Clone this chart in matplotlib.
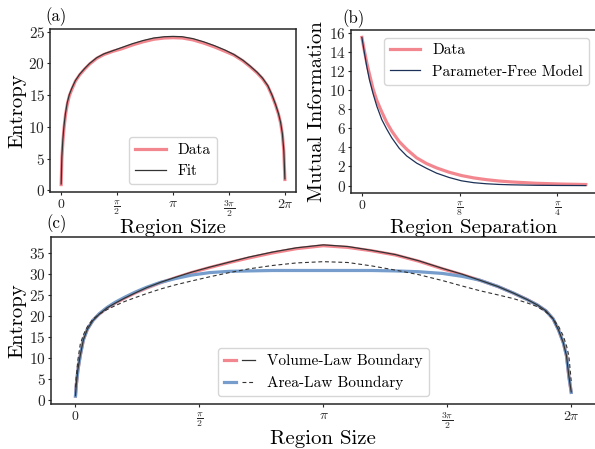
import matplotlib
matplotlib.use('Agg')
import matplotlib.pyplot as plt
import numpy as np
from matplotlib.legend_handler import HandlerTuple

#=====================================================
# (a) entropy of the volume-law state, data and fit

size_a = [0.0, 0.02, 0.05, 0.08, 0.12, 0.17, 0.23, 0.3, 0.4, 0.52, 0.66, 0.8,
          1.0, 1.2, 1.45, 1.7, 2.0, 2.3, 2.6, 2.9, 3.14, 3.4, 3.7, 4.0, 4.3,
          4.6, 4.85, 5.1, 5.3, 5.5, 5.65, 5.8, 5.92, 6.02, 6.1, 6.16, 6.21,
          6.25, 6.28]
entropy_a_data = [0.9, 5.0, 7.8, 9.8, 11.8, 13.5, 14.9, 15.9, 17.2, 18.2, 19.1,
                  19.9, 20.8, 21.4, 21.9, 22.3, 22.9, 23.4, 23.8, 24.0, 24.05,
                  24.0, 23.7, 23.2, 22.6, 21.9, 21.3, 20.4, 19.5, 18.5, 17.6,
                  16.4, 14.9, 13.4, 12.0, 10.6, 8.8, 6.2, 1.7]
entropy_a_fit = [1.0, 5.4, 8.2, 10.2, 12.1, 13.8, 15.1, 16.1, 17.3, 18.3, 19.2,
                 20.0, 20.9, 21.5, 22.0, 22.5, 23.1, 23.6, 24.0, 24.2, 24.25,
                 24.2, 23.9, 23.4, 22.8, 22.1, 21.4, 20.5, 19.6, 18.6, 17.7,
                 16.5, 15.0, 13.5, 12.1, 10.7, 8.9, 6.3, 1.8]

# (b) mutual information vs separation

separation = [0.0, 0.01, 0.02, 0.03, 0.045, 0.06, 0.08, 0.1, 0.12, 0.15, 0.18,
              0.22, 0.26, 0.3, 0.35, 0.4, 0.45, 0.5, 0.55, 0.6, 0.7, 0.8, 0.9]
mi_data = [15.5, 14.1, 12.8, 11.7, 10.1, 8.9, 7.7, 6.6, 5.7, 4.6, 3.8, 2.9,
           2.3, 1.85, 1.4, 1.05, 0.8, 0.62, 0.48, 0.38, 0.24, 0.16, 0.11]
mi_model = [15.5, 13.9, 12.4, 11.1, 9.6, 8.3, 6.9, 5.9, 5.0, 3.9, 3.1, 2.35,
            1.8, 1.3, 0.85, 0.5, 0.3, 0.19, 0.12, 0.08, 0.03, 0.01, 0.0]

# (c) volume-law vs area-law boundary

size_c = [0.0, 0.01, 0.03, 0.06, 0.1, 0.15, 0.22, 0.3, 0.4, 0.5, 0.62, 0.75,
          0.9, 1.08, 1.27, 1.47, 1.7, 1.95, 2.2, 2.5, 2.8, 3.14, 3.45, 3.75,
          4.05, 4.35, 4.65, 4.9, 5.12, 5.35, 5.55, 5.72, 5.85, 5.96, 6.05,
          6.12, 6.18, 6.22, 6.25, 6.28]
volume_data = [0.9, 3.5, 7.0, 10.5, 14.3, 16.8, 18.9, 20.4, 21.9, 23.0, 24.2,
               25.4, 26.6, 27.9, 29.1, 30.3, 31.5, 32.7, 33.8, 35.0, 36.0,
               36.7, 36.3, 35.5, 34.5, 33.0, 31.2, 29.8, 28.5, 27.0, 25.4,
               23.9, 22.6, 21.2, 19.3, 16.6, 13.6, 10.5, 5.6, 1.8]
volume_fit = [1.0, 3.7, 7.2, 10.6, 14.3, 16.8, 18.9, 20.4, 21.9, 23.0, 24.2,
              25.4, 26.7, 28.0, 29.2, 30.4, 31.6, 32.8, 34.0, 35.2, 36.2,
              36.9, 36.5, 35.6, 34.6, 33.1, 31.3, 29.9, 28.5, 27.0, 25.4,
              23.9, 22.6, 21.2, 19.3, 16.6, 13.6, 10.5, 5.7, 1.9]
area_data = [0.9, 3.5, 7.0, 10.5, 14.3, 16.8, 18.9, 20.5, 22.0, 23.2, 24.4,
             25.6, 26.8, 28.0, 28.9, 29.7, 30.3, 30.6, 30.7, 30.8, 30.8,
             30.8, 30.8, 30.8, 30.7, 30.5, 30.1, 29.4, 28.5, 27.0, 25.4,
             23.9, 22.6, 21.2, 19.3, 16.6, 13.6, 10.5, 5.6, 1.8]
area_fit = [3.0, 5.5, 9.5, 13.2, 15.5, 17.4, 19.2, 20.4, 21.5, 22.4, 23.4,
            24.3, 25.3, 26.4, 27.4, 28.3, 29.3, 30.3, 31.2, 32.0, 32.6, 32.9,
            32.7, 31.9, 30.9, 29.8, 28.4, 27.1, 26.0, 25.0, 24.1, 23.1, 22.2,
            20.9, 19.3, 17.5, 15.2, 12.9, 10.5, 4.5]

pi_ticks = [0, np.pi/2, np.pi, 3*np.pi/2, 2*np.pi]
pi_labels = [r'$0$', r'$\frac{\pi}{2}$', r'$\pi$', r'$\frac{3\pi}{2}$', r'$2\pi$']
sep_ticks = [0, np.pi/8, np.pi/4]
sep_labels = [r'$0$', r'$\frac{\pi}{8}$', r'$\frac{\pi}{4}$']

PINK = '#f3878f'
BLUE = '#769dcb'
NAVY = '#1c3157'
DARK = '#333333'

#=====================================================

def main():

    setStyle()
    fig = plt.figure(figsize=(5.95, 4.49), dpi=100)

    ax_a = fig.add_axes([0.084, 0.5724, 0.4136, 0.363])
    ax_b = fig.add_axes([0.5894, 0.5702, 0.414, 0.363])
    ax_c = fig.add_axes([0.0852, 0.1009, 0.9165, 0.3706])

    plotA(ax_a)
    plotB(ax_b)
    plotC(ax_c)

    fig.text(0.076, 0.962, '(a)', fontsize=12, va='center')
    fig.text(0.575, 0.958, '(b)', fontsize=12, va='center')
    fig.text(0.078, 0.502, '(c)', fontsize=12, va='center')

    fig.savefig('out.png', dpi=100)

    return

#-----------------------------------------------------

def setStyle():
    plt.rcParams['font.family'] = 'serif'
    plt.rcParams['font.serif'] = ['cmr10']
    plt.rcParams['mathtext.fontset'] = 'cm'
    plt.rcParams['axes.unicode_minus'] = False
    plt.rcParams['axes.formatter.use_mathtext'] = True
    plt.rcParams['axes.edgecolor'] = '0.15'
    plt.rcParams['axes.linewidth'] = 1.1
    plt.rcParams['xtick.color'] = '0.15'
    plt.rcParams['ytick.color'] = '0.15'
    plt.rcParams['xtick.major.size'] = 2.5
    plt.rcParams['ytick.major.size'] = 2.0
    plt.rcParams['xtick.major.pad'] = 2.0
    plt.rcParams['ytick.major.pad'] = 1.5
    plt.rcParams['xtick.labelsize'] = 10
    plt.rcParams['ytick.labelsize'] = 11
    plt.rcParams['axes.labelsize'] = 15
    plt.rcParams['legend.fontsize'] = 11

#-----------------------------------------------------

def plotA(ax):
    ax.plot(size_a, entropy_a_data, color=PINK, lw=2.3, label='Data')
    ax.plot(size_a, entropy_a_fit, color=DARK, lw=0.9, label='Fit')

    ax.set_xticks(pi_ticks)
    ax.set_xticklabels(pi_labels)
    ax.set_yticks([0, 5, 10, 15, 20, 25])
    ax.set_xlabel('Region Size')
    ax.set_ylabel('Entropy')
    ax.xaxis.set_label_coords(0.5, -0.165)
    ax.yaxis.set_label_coords(-0.095, 0.5)
    ax.legend(loc='lower center')

#-----------------------------------------------------

def plotB(ax):
    ax.plot(separation, mi_data, color=PINK, lw=2.3, label='Data')
    ax.plot(separation, mi_model, color=NAVY, lw=0.9, label='Parameter-Free Model')

    ax.set_xticks(sep_ticks)
    ax.set_xticklabels(sep_labels)
    ax.set_yticks(range(0, 17, 2))
    ax.set_xlabel('Region Separation')
    ax.set_ylabel('Mutual Information')
    ax.xaxis.set_label_coords(0.5, -0.16)
    ax.yaxis.set_label_coords(-0.10, 0.5)
    ax.legend(loc='upper right')

#-----------------------------------------------------

def plotC(ax):
    l1, = ax.plot(size_c, volume_data, color=PINK, lw=2.3)
    l3, = ax.plot(size_c, area_data, color=BLUE, lw=2.3)
    l2, = ax.plot(size_c, volume_fit, color=DARK, lw=0.9)
    l4, = ax.plot(size_c, area_fit, color=DARK, lw=0.8, ls=(0, (3.5, 2.5)))

    ax.set_xticks(pi_ticks)
    ax.set_xticklabels(pi_labels)
    ax.set_yticks(range(0, 36, 5))
    ax.set_xlabel('Region Size')
    ax.set_ylabel('Entropy')
    ax.xaxis.set_label_coords(0.5, -0.16)
    ax.yaxis.set_label_coords(-0.0453, 0.5)
    ax.legend([(l1, l2), (l3, l4)], ['Volume-Law Boundary', 'Area-Law Boundary'],
              handler_map={tuple: HandlerTuple(ndivide=None)}, loc='lower center')

#=====================================================

if __name__ == '__main__':
    main()
